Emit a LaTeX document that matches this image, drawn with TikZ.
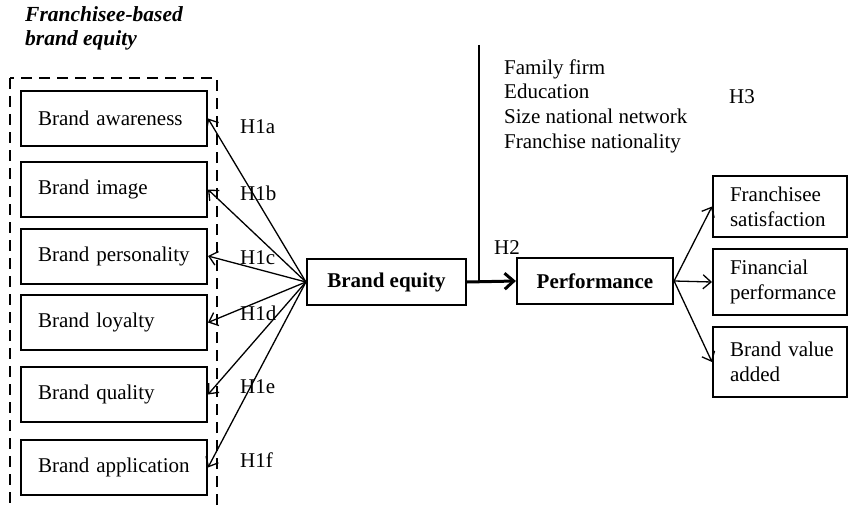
\documentclass[tikz,border=0pt]{standalone}
\usepackage{fontspec}
\setmainfont{Liberation Serif}
\usetikzlibrary{arrows.meta}
\newcommand{\rind}{\hspace*{9pt}}
\begin{document}
\begin{tikzpicture}[x=1pt,y=-1pt,
  every node/.style={font=\fontsize{21}{24.7}\selectfont},
  lbox/.style={draw,line width=2pt,minimum height=55pt,text width=152pt,inner xsep=17pt,align=left},
  rbox/.style={draw,line width=2pt,text width=118pt,inner xsep=8pt,align=left},
  cbox/.style={draw,line width=2.2pt,minimum height=46pt,font=\fontsize{21}{24.7}\selectfont\bfseries},
  lbl/.style={anchor=west,inner sep=0pt},
  arr/.style={line width=1.3pt,-{Straight Barb[length=8pt,width=14pt]}},
  dashbox/.style={line width=2.5pt,dash pattern=on 11pt off 7pt}]
\useasboundingbox (0,0) rectangle (848,508);
\fill[white] (0,0) rectangle (848,508);
% title
\node[anchor=north west,inner sep=0pt,align=left,font=\fontsize{21.5}{24}\selectfont\bfseries\itshape] (title) at (25,6) {Franchisee-based\\brand equity};
% dashed group
\begin{scope}
\clip (0,0) rectangle (848,508);
\draw[dashbox] (10,78) rectangle (217,530);
\end{scope}
% left boxes
\node[lbox] (aw) at (114,118.5) {Brand awareness};
\node[lbox] (im) at (114,189.5) {Brand image};
\node[lbox] (pe) at (114,256) {Brand personality};
\node[lbox] (lo) at (114,322.5) {Brand loyalty};
\node[lbox] (qu) at (114,394.5) {Brand quality};
\node[lbox] (ap) at (114,467.5) {Brand application};
% centre boxes
\node[cbox,minimum width=159pt] (be) at (386.5,282) {Brand equity};
\node[cbox,minimum width=156pt] (pf) at (595,281) {Performance};
% right boxes
\node[rbox,minimum height=61pt] (fs) at (780,206.5) {\rind Franchisee\\\rind satisfaction};
\node[rbox,minimum height=66pt] (fp) at (780,282) {\rind Financial\\\rind performance};
\node[rbox,minimum height=70pt] (bv) at (780,362) {\rind Brand value\\\rind added};
% labels
\node[lbl] (h1a) at (240,127) {H1a};
\node[lbl] (h1b) at (240,193) {H1b};
\node[lbl] (h1c) at (240,258) {H1c};
\node[lbl] (h1d) at (240,313) {H1d};
\node[lbl] (h1e) at (240,387) {H1e};
\node[lbl] (h1f) at (240,460) {H1f};
\node[lbl] (h2) at (494,248) {H2};
\node[lbl] (h3) at (729,97) {H3};
\node[lbl,align=left] (mods) at (504,106) {Family firm\\Education\\Size national network\\Franchise nationality};
% connectors
\foreach \t in {aw,im,pe,lo,qu,ap}
  \draw[arr] (be.west) -- (\t.east);
\coordinate (mtop) at (479,45);
\draw[line width=1.2pt] (mtop) -- (mtop |- be.east);
\draw[line width=3pt,-{Straight Barb[length=9pt,width=16pt]}] (be.east) -- (pf.west);
\foreach \t in {fs,fp,bv}
  \draw[arr] (pf.east) -- (\t.west);
\end{tikzpicture}
\end{document}
